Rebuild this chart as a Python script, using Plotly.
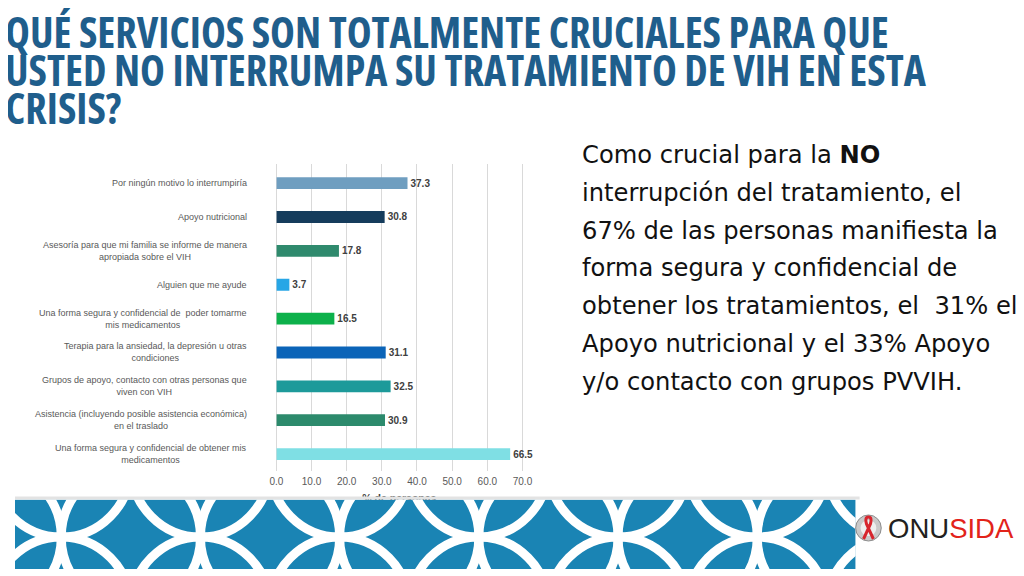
import plotly.graph_objects as go

W, H = 1024, 576

# data
categories = [
    "Por ningún motivo lo interrumpiría",
    "Apoyo nutricional",
    "Asesoría para que mi familia se informe de manera<br>apropiada sobre el VIH",
    "Alguien que me ayude",
    "Una forma segura y confidencial de  poder tomarme<br>mis medicamentos",
    "Terapia para la ansiedad, la depresión u otras<br>condiciones",
    "Grupos de apoyo, contacto con otras personas que<br>viven con VIH",
    "Asistencia (incluyendo posible asistencia económica)<br>en el traslado",
    "Una forma segura y confidencial de obtener mis<br>medicamentos",
]
values = [37.3, 30.8, 17.8, 3.7, 16.5, 31.1, 32.5, 30.9, 66.5]
bar_colors = ["#6f9ec0", "#153c5c", "#2f8a6d", "#27a6e6", "#0db14b",
              "#0b64b8", "#1d9a9a", "#2c8a6c", "#7fdfe4"]
x_ticks = [0, 10, 20, 30, 40, 50, 60, 70]
x_title = "% de personas"

title_lines = [
    "QUÉ SERVICIOS SON TOTALMENTE CRUCIALES PARA QUE",
    "USTED NO INTERRUMPA SU TRATAMIENTO DE VIH EN ESTA",
    "CRISIS?",
]
side_lines = [
    "Como crucial para la <b>NO</b>",
    "interrupción del tratamiento, el",
    "67% de las personas manifiesta la",
    "forma segura y confidencial de",
    "obtener los tratamientos, el  31% el",
    "Apoyo nutricional y el 33% Apoyo",
    "y/o contacto con grupos PVVIH.",
]

# the page puts the figure 8px in from the top-left corner,
# so positions below are given in screen pixels and shifted here
OFF = 8


def px(x):
    return (x - OFF) / W


def py(y):
    return 1 - (y - OFF) / H


fig = go.Figure()

fig.add_trace(go.Bar(
    x=values, y=categories, orientation="h",
    marker=dict(color=bar_colors, line=dict(width=0)),
    width=0.35,
    text=values, texttemplate="%{x:.1f}", textposition="outside",
    textfont=dict(family="Liberation Sans, Arial", size=10, color="#404040", weight="bold"),
    cliponaxis=False, hoverinfo="skip", showlegend=False,
))

# empty trace so the axis carrying the x title gets drawn
fig.add_trace(go.Scatter(
    x=[35], y=[categories[0]], xaxis="x3", mode="markers",
    marker=dict(opacity=0), hoverinfo="skip", showlegend=False,
))

annotations = []

# category labels, centred lines like the original
for c in categories:
    annotations.append(dict(
        text=c, xref="paper", yref="y", x=px(246), y=c,
        xanchor="right", yanchor="middle", align="center", showarrow=False,
        font=dict(family="Liberation Sans, Arial", size=9, color="#595959"),
    ))

# title (condensed face of the font)
for i, t in enumerate(title_lines):
    annotations.append(dict(
        text="<span style='font-stretch:condensed'><b>" + t + "</b></span>",
        xref="paper", yref="paper",
        x=px(-4.3), y=py(31 + 38.2 * i), xanchor="left", yanchor="middle",
        showarrow=False,
        font=dict(family="Open Sans", size=42, color="#1f5e8c"),
    ))

# side comment
for i, t in enumerate(side_lines):
    annotations.append(dict(
        text=t, xref="paper", yref="paper",
        x=px(582), y=py(155 + 37.8 * i), xanchor="left", yanchor="middle",
        showarrow=False,
        font=dict(family="DejaVu Sans", size=24.2, color="#111111"),
    ))

# logo text
annotations.append(dict(
    text="ONU<span style='color:#e2231a'>SIDA</span>", xref="paper", yref="paper",
    x=px(893), y=py(528), xanchor="left", yanchor="middle", showarrow=False,
    font=dict(family="Liberation Sans, Arial", size=27.5, color="#231f20"),
))

shapes = []

# banner background and ring pattern, clipped to the banner subplot
bx0, bx1, by0, by1 = OFF, 862, 499.5, 569
cy = 537
step = 141.4
r = step / 2
shapes.append(dict(type="rect", xref="x2", yref="y2", x0=bx0, x1=bx1, y0=by0, y1=by1,
                   fillcolor="#1a84b4", line=dict(width=0), layer="above"))
for k in range(-1, 8):
    jx = 55 + step * k
    for (cx, ccy) in [(jx + r, cy), (jx, cy - r), (jx, cy + r)]:
        shapes.append(dict(type="circle", xref="x2", yref="y2",
                           x0=cx - r, x1=cx + r, y0=ccy - r, y1=ccy + r,
                           line=dict(color="white", width=9), layer="above"))

# thin grey strip at top of the banner
shapes.append(dict(type="rect", xref="paper", yref="paper",
                   x0=px(OFF), x1=px(866), y0=py(499.5), y1=py(496.5),
                   fillcolor="#e3e3e3", line=dict(width=0), layer="above"))

# emblem next to the logo text
ex, ey = 875, 528
shapes.append(dict(type="circle", xref="paper", yref="paper",
                   x0=px(ex - 13), x1=px(ex + 13), y0=py(ey + 13), y1=py(ey - 13),
                   fillcolor="#c9c9c9", line=dict(color="#8c8c8c", width=1), layer="above"))
shapes.append(dict(type="circle", xref="paper", yref="paper",
                   x0=px(ex - 8), x1=px(ex + 8), y0=py(ey + 8), y1=py(ey - 8),
                   fillcolor="#eeeeee", line=dict(width=0), layer="above"))
ribbon = "M {} {} L {} {} Q {} {} {} {} Q {} {} {} {} L {} {}".format(
    px(ex - 5), py(ey + 11), px(ex + 2), py(ey - 4),
    px(ex + 4), py(ey - 11), px(ex), py(ey - 11),
    px(ex - 4), py(ey - 11), px(ex - 2), py(ey - 4),
    px(ex + 5), py(ey + 11))
shapes.append(dict(type="path", xref="paper", yref="paper", path=ribbon,
                   line=dict(color="#d7262e", width=3), layer="above"))

fig.update_layout(
    width=W, height=H,
    margin=dict(l=0, r=0, t=0, b=0),
    paper_bgcolor="white", plot_bgcolor="white",
    xaxis=dict(
        domain=[px(273.5), px(524.6)], range=[0, 70.3],
        tickvals=x_ticks, tickformat=".1f", ticklabelstandoff=3,
        tickfont=dict(family="Liberation Sans, Arial", size=10, color="#595959"),
        showgrid=True, gridcolor="#d9d9d9", gridwidth=1,
        zeroline=True, zerolinecolor="#d9d9d9", zerolinewidth=1,
        showline=False, ticks="", anchor="y", fixedrange=True,
    ),
    # axis title, mostly hidden under the banner as in the original
    xaxis3=dict(
        overlaying="x", range=[0, 70.3], anchor="y", side="bottom",
        tickvals=[35], ticktext=[x_title], ticklabelstandoff=19,
        tickfont=dict(family="Liberation Sans, Arial", size=10.5, color="#404040", weight="bold"),
        showgrid=False, zeroline=False, showline=False, ticks="", fixedrange=True,
    ),
    yaxis=dict(
        domain=[py(471), py(164)], autorange="reversed",
        showticklabels=False, showgrid=False, zeroline=False, showline=False,
        ticks="", fixedrange=True,
    ),
    xaxis2=dict(domain=[px(bx0), px(bx1)], range=[bx0, bx1], anchor="y2", visible=False),
    yaxis2=dict(domain=[py(by1), py(by0)], range=[by1, by0], anchor="x2", visible=False),
    annotations=annotations,
    shapes=shapes,
)

fig.write_html("out.html")
